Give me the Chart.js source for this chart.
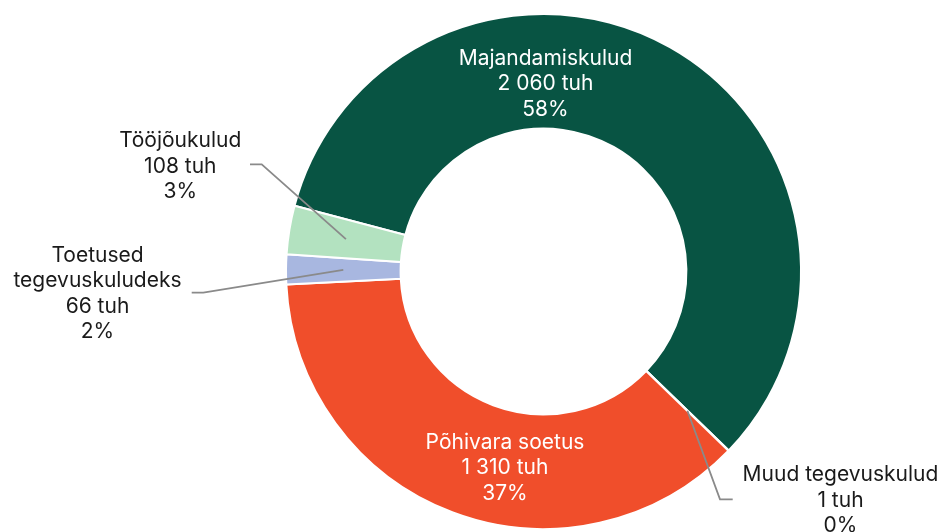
<!DOCTYPE html>
<html lang="et">
<head>
  <meta charset="UTF-8">
  <title>Kulud</title>
  <script src="https://cdn.jsdelivr.net/npm/chart.js"></script>
  <style>
    html, body { margin: 0; padding: 0; background: #fff; }
    #wrap { width: 941px; height: 532px; position: relative; }
  </style>
</head>
<body>
<div id="wrap"><canvas id="myChart"></canvas></div>

<script>
  // andmed
  var categories = ['Majandamiskulud', 'Muud tegevuskulud', 'Põhivara soetus', 'Toetused\ntegevuskuludeks', 'Tööjõukulud'];
  var amounts = [2060, 1, 1310, 66, 108];
  var unit = 'tuh';
  var colors = ['#085443', '#8c8c8c', '#F04E2B', '#A8B7E0', '#B3E2C0'];

  // sildi asukohad (esimese rea baasjoon) ja juhtjoone algus
  var labelPlaces = [
    { x: 545.5, y: 64.5, color: '#ffffff' },
    { x: 840.5, y: 481, color: '#1a1a1a', lead: [[732.7, 499.3], [720, 499.3]] },
    { x: 505, y: 448.5, color: '#ffffff' },
    { x: 97.5, y: 261.7, color: '#1a1a1a', lead: [[191.7, 292.7], [203.3, 292.7]] },
    { x: 180.3, y: 147.3, color: '#1a1a1a', lead: [[250, 164.3], [261.7, 164.3]] }
  ];
  var lineGap = 25.5;

  function fmt(v) {
    return String(v).replace(/\B(?=(\d{3})+(?!\d))/g, ' ');
  }

  var total = amounts.reduce(function (a, b) { return a + b; }, 0);

  var labelPlugin = {
    id: 'sildid',
    afterDatasetsDraw: function (chart) {
      var ctx = chart.ctx;
      var meta = chart.getDatasetMeta(0);
      ctx.save();
      meta.data.forEach(function (arc, i) {
        var p = labelPlaces[i];
        var props = arc.getProps(['x', 'y', 'startAngle', 'endAngle', 'innerRadius', 'outerRadius'], true);
        if (p.lead) {
          var mid = (props.startAngle + props.endAngle) / 2;
          var r = (props.innerRadius + props.outerRadius) / 2;
          ctx.beginPath();
          ctx.moveTo(p.lead[0][0], p.lead[0][1]);
          ctx.lineTo(p.lead[1][0], p.lead[1][1]);
          ctx.lineTo(props.x + Math.cos(mid) * r, props.y + Math.sin(mid) * r);
          ctx.strokeStyle = '#8a8a8a';
          ctx.lineWidth = 1.8;
          ctx.stroke();
        }
        var lines = categories[i].split('\n');
        lines.push(fmt(amounts[i]) + ' ' + unit);
        lines.push(Math.round(amounts[i] / total * 100) + '%');
        ctx.fillStyle = p.color;
        ctx.font = '21px Inter';
        ctx.textAlign = 'center';
        ctx.textBaseline = 'alphabetic';
        lines.forEach(function (t, k) {
          ctx.fillText(t, p.x, p.y + k * lineGap);
        });
      });
      ctx.restore();
    }
  };

  var ctx = document.getElementById('myChart').getContext('2d');
  var myChart = new Chart(ctx, {
    type: 'doughnut',
    data: {
      labels: categories,
      datasets: [{
        data: amounts,
        backgroundColor: colors,
        borderColor: '#ffffff',
        borderWidth: 2
      }]
    },
    options: {
      responsive: true,
      maintainAspectRatio: false,
      animation: false,
      cutout: '55.5%',
      rotation: -75.2,
      layout: {
        padding: { left: 285, right: 139, top: 13, bottom: 2 }
      },
      plugins: {
        legend: { display: false },
        tooltip: { enabled: false }
      }
    },
    plugins: [labelPlugin]
  });
</script>
</body>
</html>
